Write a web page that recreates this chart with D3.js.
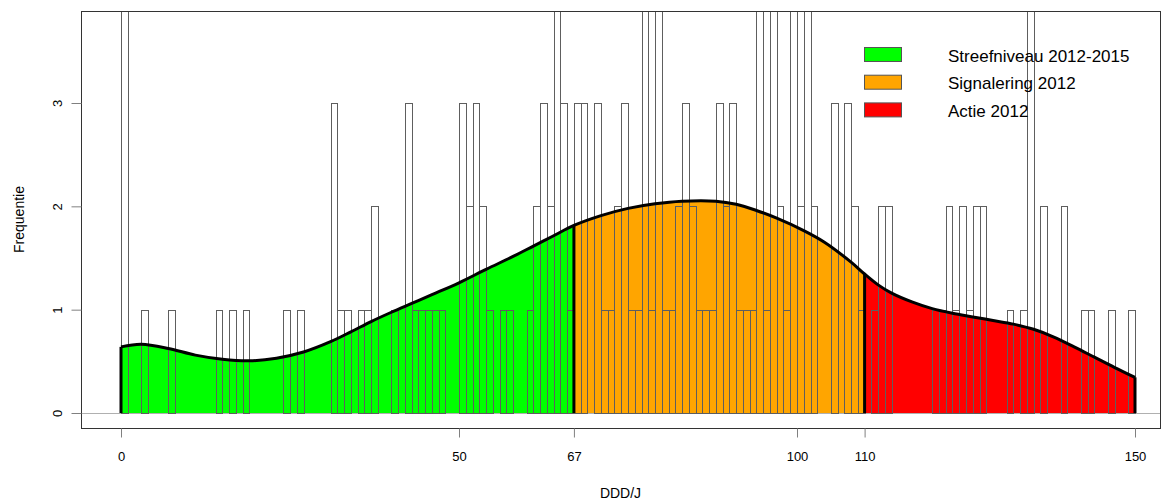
<!DOCTYPE html>
<html lang="nl">
<head>
<meta charset="UTF-8">
<title>Frequentie DDD/J</title>
<style>
  body { margin: 0; background: #fff; }
  svg { display: block; font-family: 'Liberation Sans', Arial, sans-serif; }
  .axis path { display: none; }
  .axis line { stroke: #808080; }
  .axis text { font-size: 13px; fill: #000; }
  .bar { fill: none; stroke: #5e5e5e; stroke-width: 1; shape-rendering: crispEdges; }
</style>
</head>
<body>
<div id="chart"></div>
<script src="https://d3js.org/d3.v7.min.js"></script>
<script>
  // aantal per klasse van 1 DDD/J (0-1, 1-2, ... 149-150); 4 = steekt boven de grafiek uit
  var counts = [
    4, 0, 0, 1, 0, 0, 0, 1, 0, 0,
    0, 0, 0, 0, 1, 0, 1, 0, 1, 0,
    0, 0, 0, 0, 1, 0, 1, 0, 0, 0,
    0, 3, 1, 1, 0, 1, 1, 2, 0, 0,
    1, 0, 3, 1, 1, 1, 1, 1, 0, 0,
    3, 2, 3, 2, 1, 0, 1, 1, 0, 0,
    1, 2, 3, 2, 4, 3, 1, 3, 3, 0,
    3, 1, 1, 2, 3, 1, 1, 4, 1, 4,
    1, 1, 2, 3, 2, 1, 1, 1, 3, 2,
    3, 1, 1, 1, 4, 1, 4, 2, 1, 4,
    2, 4, 2, 0, 0, 3, 0, 3, 2, 1,
    0, 1, 2, 2, 0, 0, 0, 0, 0, 0,
    1, 1, 2, 1, 2, 1, 2, 2, 0, 0,
    0, 1, 0, 1, 4, 0, 2, 0, 0, 2,
    0, 0, 1, 1, 0, 0, 1, 0, 0, 1
  ];

  var curveX = [0, 3, 7, 11, 15, 19, 23, 27, 31, 34, 37, 40, 43, 46, 50, 54, 58, 61, 64, 67,
    71, 75, 79, 83, 88, 91, 94, 97, 101, 104, 108, 110, 112, 114, 117, 120, 123, 126, 129,
    132, 135, 138, 141, 144, 147, 150];
  var curveY = [0.64, 0.665, 0.625, 0.56, 0.52, 0.505, 0.53, 0.59, 0.69, 0.785, 0.885, 0.975,
    1.06, 1.145, 1.26, 1.39, 1.515, 1.615, 1.715, 1.815, 1.91, 1.98, 2.025, 2.05, 2.05, 2.02,
    1.96, 1.885, 1.765, 1.655, 1.46, 1.345, 1.24, 1.16, 1.075, 1.01, 0.965, 0.93, 0.895, 0.86,
    0.81, 0.735, 0.64, 0.54, 0.44, 0.345];

  var xTicks = [0, 50, 67, 100, 110, 150];
  var yTicks = [0, 1, 2, 3];
  var zoneNames = ['Streefniveau 2012-2015', 'Signalering 2012', 'Actie 2012'];
  var zoneBounds = [0, 67, 110, 150];
  var zoneColors = ['#00ff00', '#ffa500', '#ff0000'];

  var width = 1171;
  var height = 503;
  var box = {left: 81, right: 1160, top: 11, bottom: 428};

  var svg = d3.select('#chart')
    .append('svg')
    .attr('width', width)
    .attr('height', height);

  var x = d3.scaleLinear().domain([0, 150]).range([121, 1135]);
  var y = d3.scaleLinear().domain([0, 3]).range([413, 103]);

  var defs = svg.append('defs');
  defs.append('clipPath').attr('id', 'plotclip')
    .append('rect')
    .attr('x', box.left).attr('y', box.top)
    .attr('width', box.right - box.left).attr('height', box.bottom - box.top);

  zoneNames.forEach(function (n, i) {
    defs.append('clipPath').attr('id', 'zone' + i)
      .append('rect')
      .attr('x', x(zoneBounds[i]))
      .attr('y', box.top)
      .attr('width', x(zoneBounds[i + 1]) - x(zoneBounds[i]))
      .attr('height', box.bottom - box.top);
  });

  var pts = curveX.map(function (d, i) { return [d, curveY[i]]; });
  var smooth = d3.curveCatmullRom.alpha(0.5);

  var plot = svg.append('g').attr('clip-path', 'url(#plotclip)');

  // nullijn
  plot.append('line')
    .attr('x1', box.left).attr('x2', box.right)
    .attr('y1', y(0) + 0.5).attr('y2', y(0) + 0.5)
    .attr('stroke', '#b0b0b0');

  var area = d3.area()
    .x(function (d) { return x(d[0]); })
    .y0(y(0))
    .y1(function (d) { return y(d[1]); })
    .curve(smooth);

  zoneNames.forEach(function (n, i) {
    plot.append('path')
      .datum(pts)
      .attr('clip-path', 'url(#zone' + i + ')')
      .attr('fill', zoneColors[i])
      .attr('d', area);
  });

  // histogram, alleen de omtrek
  plot.selectAll('.bar')
    .data(counts.map(function (c, i) { return {i: i, c: c}; }).filter(function (d) { return d.c > 0; }))
    .enter()
    .append('rect')
    .attr('class', 'bar')
    .attr('x', function (d) { return Math.round(x(d.i)) + 0.5; })
    .attr('width', function (d) { return Math.round(x(d.i + 1)) - Math.round(x(d.i)); })
    .attr('y', function (d) { return Math.round(y(d.c)) + 0.5; })
    .attr('height', function (d) { return Math.round(y(0)) - Math.round(y(d.c)); });

  var line = d3.line()
    .x(function (d) { return x(d[0]); })
    .y(function (d) { return y(d[1]); })
    .curve(smooth);

  plot.append('path')
    .datum(pts)
    .attr('fill', 'none')
    .attr('stroke', '#000')
    .attr('stroke-width', 3)
    .attr('d', line);

  plot.selectAll('.edge')
    .data(zoneBounds)
    .enter()
    .append('line')
    .attr('class', 'edge')
    .attr('x1', function (d) { return x(d); })
    .attr('x2', function (d) { return x(d); })
    .attr('y1', y(0))
    .attr('y2', function (d) { return y(curveY[curveX.indexOf(d)]); })
    .attr('stroke', '#000')
    .attr('stroke-width', 3);

  // kader
  svg.append('rect')
    .attr('x', box.left + 0.5).attr('y', box.top + 0.5)
    .attr('width', box.right - box.left).attr('height', box.bottom - box.top)
    .attr('fill', 'none')
    .attr('stroke', '#333');

  var xAxis = d3.axisBottom(x).tickValues(xTicks).tickSize(9).tickPadding(14)
    .tickFormat(d3.format('d'));
  svg.append('g')
    .attr('class', 'axis')
    .attr('transform', 'translate(0,' + (box.bottom + 0.5) + ')')
    .call(xAxis);

  var yAxis = d3.axisLeft(y).tickValues(yTicks).tickSize(10).tickFormat(d3.format('d'));
  svg.append('g')
    .attr('class', 'axis')
    .attr('transform', 'translate(' + (box.left + 0.5) + ',0)')
    .call(yAxis)
    .selectAll('text')
    .attr('text-anchor', 'middle')
    .attr('x', 0)
    .attr('dy', 0)
    .attr('transform', 'translate(-20,0) rotate(-90)');

  svg.append('text')
    .attr('x', (box.left + box.right) / 2)
    .attr('y', 498)
    .attr('text-anchor', 'middle')
    .style('font-size', '14px')
    .text('DDD/J');

  svg.append('text')
    .attr('transform', 'translate(24,' + ((box.top + box.bottom) / 2) + ') rotate(-90)')
    .attr('text-anchor', 'middle')
    .style('font-size', '14px')
    .text('Frequentie');

  // legenda
  var legend = svg.append('g').attr('transform', 'translate(864,47)');
  zoneNames.forEach(function (n, i) {
    legend.append('rect')
      .attr('x', 0.5).attr('y', i * 27.7 + 0.5)
      .attr('width', 37).attr('height', 14)
      .attr('fill', zoneColors[i])
      .attr('stroke', '#555');
    legend.append('text')
      .attr('x', 84)
      .attr('y', i * 27.7 + 14.5)
      .style('font-size', '17px')
      .text(n);
  });
</script>
</body>
</html>
